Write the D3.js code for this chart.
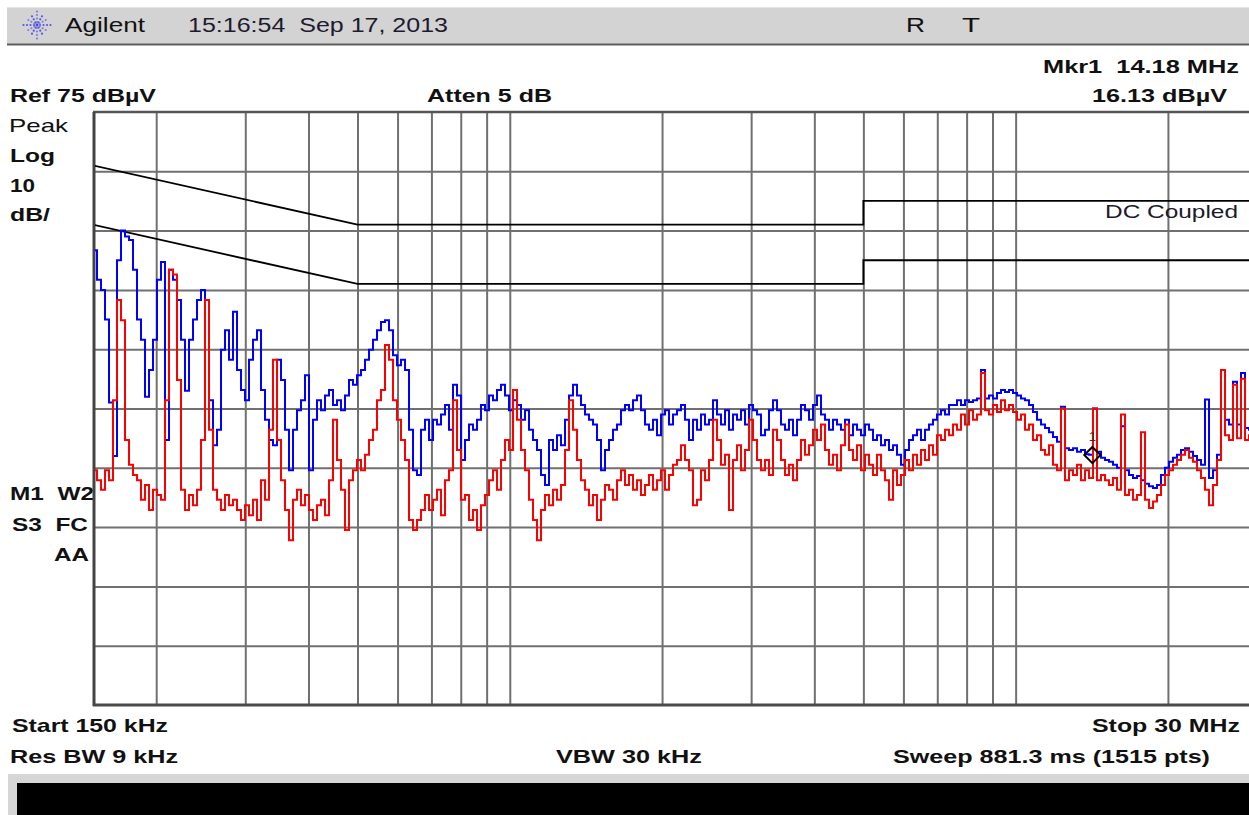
<!DOCTYPE html>
<html><head><meta charset="utf-8">
<script src="https://cdn.jsdelivr.net/npm/d3@7"></script>
<style>
body{margin:0;background:#fff;overflow:hidden}
svg{display:block}
text{font-family:"Liberation Sans",Arial,sans-serif;fill:#111;white-space:pre}
</style>
</head><body>
<svg id="c" width="1249" height="815"></svg>
<script>
// ---------------- data ----------------
const startHz = 150e3, stopHz = 30e6;
const refLevel = 75, dbPerDiv = 10, numDiv = 10;
const gridLevels = [-15, -5, 5, 15, 25, 35, 45, 55, 65];
const gridFreqs = [200e3,300e3,400e3,500e3,600e3,700e3,800e3,900e3,1e6,2e6,3e6,4e6,5e6,6e6,7e6,8e6,9e6,10e6,20e6];
// limit lines (dBµV) : [freq, level]
const qpLimit  = [[150e3,66],[500e3,56],[5e6,56],[5e6,60],[30e6,60]];
const avgLimit = [[150e3,56],[500e3,46],[5e6,46],[5e6,50],[30e6,50]];
// traces, dBµV, log-spaced sweep points from start to stop
const blueTrace = [
51.7,46.7,45,40,26,17,50,55,54,53.4,
48.4,40,36.6,27,31.5,36.6,46.7,49.7,19.7,48.4,
46.7,43.3,36.6,28,36.6,40,43.3,45,43.3,26.4,
18.8,21.4,34.9,38.2,33.2,41.3,31.5,28.1,26.4,33.2,
36.6,38.2,28.1,23.1,19.7,18.8,33.2,29.8,21.4,14.6,
21.4,24.7,26.4,30.6,14.6,23.1,26.4,24.7,27.2,28.1,
25.6,26.4,24.7,27.2,29.8,29,30.6,31.5,33.2,34.9,
36.6,38.2,39.6,39.9,38.2,34,32.3,33.2,31.5,21.4,
14.6,13.8,21.4,23.1,19.7,23.1,22.3,24,25.6,21.4,
29,27.2,16.3,19.7,22.3,21.4,23.1,25.6,24.7,27.2,
26.4,28.1,29,27.2,24.7,26.4,25.6,23.1,24.7,21.4,
19.7,18,13.8,12.1,19.7,18,20.5,18.8,23.1,27.2,
29,27.2,25.6,24,23.1,22.3,19.7,14.6,18,19.7,
21.4,22.3,24.7,25.6,24.7,26.4,27.2,24.7,22.3,21.4,
23.1,20.5,24,24.7,22.3,24,24.7,25.6,23.1,19.7,
23.1,21.4,24,22.3,23.1,26.4,24,22.3,24.7,21.4,
24,23.1,24.7,22.3,25.6,24.7,24,20.5,21.4,24.7,
26.4,24.7,22.3,21.4,23.1,20.5,23.1,25.6,24.7,23.1,
25.6,27.2,24,23.1,21.4,23.1,22.3,21.4,23.1,20.5,
22.3,21.4,20.5,22.3,21.4,19.7,20.5,18.8,19.7,18,
18.8,17.2,15.5,18,19.7,20.5,21.4,19.7,21.4,22.3,
23.1,24,24.7,24,25.6,25.6,26.4,25.6,26.4,26.1,
26.4,26.7,31.5,26.7,27.2,26.7,27.6,28.1,27.8,28.1,
27.6,27.2,26.7,26.4,25.6,24.4,23.1,22.3,21.7,21,
20.2,19.4,25.3,18.3,18,18.3,17.7,18,17.3,17.2,
25,17.7,16.7,16.3,16,15.5,15,22,14.6,13.8,
13.3,13.6,12.9,12.3,11.9,11.6,12.1,13.8,15,16,
16.7,17.2,18,18.3,17.7,17,16.3,15.5,26.5,13.3,
14.6,17.2,31.5,23.1,22.3,29.5,22.3,31,21.7,21.4,
21.7,21.4];
const redTrace = [
14.6,12.9,11.3,14.6,12.9,26.4,43.3,39.9,19.7,15.5,
13.8,12.9,9.6,12.1,7.9,11.3,10.4,9.6,26.4,48.4,
47.6,29.8,11.3,7.9,10.4,8.7,11.3,19.7,43.3,21.4,
11.3,9.6,7.9,10.4,8.7,9.6,7.9,6.2,8.7,7,
9.6,6.2,12.9,9.6,21.4,33.2,19.7,12.9,7.9,2.8,
9.6,11.3,8.7,10.4,7.9,6.2,8.7,9.6,7,12.9,
23.1,16.3,11.3,4.5,12.9,14.6,16.3,14.6,17.2,19.7,
21.4,26.4,28.1,35.7,33.2,26.4,23.1,19.7,16.3,6.2,
4.5,6.2,7.9,10.4,7.9,9.6,11.3,7,12.9,14.6,
26.4,18,9.6,10.4,6.2,7.9,4.5,8.7,10.4,12.9,
14.6,11.3,16.3,19.7,18,28.1,23.1,18,14.6,9.6,
6.2,2.8,7.9,10.4,8.7,11.3,9.6,12.1,18,26.4,
21.4,16.3,12.9,11.3,8.7,10.4,6.2,9.6,12.1,11.3,
9.6,12.9,14.6,12.1,13.8,11.3,12.9,10.4,12.1,13.8,
11.3,12.9,14.6,11.3,13.8,15.5,16.3,18.8,16.3,14.6,
8.7,9.6,14.6,12.9,16.3,23.1,19.7,15.5,17.2,7.9,
16.3,18.8,14.6,18,23.1,19.7,16.3,14.6,16.3,13.8,
21.4,19.7,16.3,13.8,15.5,12.9,16.3,19.7,17.2,18.8,
21.4,19.7,22.3,18,15.5,17.2,14.6,18.8,22.3,18,
16.3,18.8,14.6,17.2,15.5,13.8,17.2,14.6,12.9,9.6,
14.6,12.1,13.8,16.3,14.6,17.2,15.5,18,16.3,18.8,
17.2,20.5,19.7,21.4,20.5,22.3,21.4,24,22.3,24.7,
23.1,24,31,24.7,24,25.6,24.4,26.4,24.7,25.6,
24.4,23.1,24,21.4,22.3,19.7,20.5,18,17.2,18.8,
15.5,14.6,25,12.9,14.6,13.8,15.5,12.9,14.6,13.3,
25,12.9,13.8,12.9,12.1,13.3,11.3,24,10.4,11.3,
9.6,10.4,21,9.6,8.2,9.3,10.4,12.1,13.8,14.6,
15.5,16.3,17.2,18,16.7,16,14.6,13.3,11.3,8.7,
12.1,16.3,31.5,20.5,19.7,29,20,30,19.7,20.5,
19.7,20];
const marker = {label: "1", freq: 14.18e6, level: 16.13};

// ---------------- layout ----------------
const svg = d3.select("#c");
const plot = {left: 93, right: 1257, top: 112, bottom: 705};
const x = d3.scaleLog().domain([startHz, stopHz]).range([plot.left, plot.right]);
const y = d3.scaleLinear().domain([refLevel - dbPerDiv*numDiv, refLevel]).range([plot.bottom, plot.top]);

// header bar
svg.append("rect").attr("x",7).attr("y",7).attr("width",1242).attr("height",37).attr("fill","#d3d3d3");
svg.append("line").attr("x1",7).attr("x2",1249).attr("y1",44.5).attr("y2",44.5).attr("stroke","#5f5f5f").attr("stroke-width",2);
svg.append("line").attr("x1",7).attr("x2",1249).attr("y1",7.5).attr("y2",7.5).attr("stroke","#e6e6e6").attr("stroke-width",1);

// Agilent spark logo
const logo = svg.append("g").attr("transform","translate(37,25)");
const rays = d3.range(0, 360, 30);
rays.forEach(a => {
  const r = a % 90 === 0 ? [3,6.5,10,13.5] : [3,6.5,10];
  r.forEach(rr => {
    logo.append("circle")
      .attr("cx", rr*Math.cos(a*Math.PI/180))
      .attr("cy", rr*Math.sin(a*Math.PI/180))
      .attr("r", 1.1).attr("fill", a % 60 === 0 ? "#4a5ae8" : "#8a7ad8");
  });
});
logo.append("circle").attr("r",1.4).attr("fill","#3a4ae0");

function txt(s, x0, yb, len, opts = {}) {
  const t = svg.append("text").attr("x", x0).attr("y", yb)
    .attr("font-size", opts.size || 19)
    .attr("font-weight", opts.bold === false ? "normal" : "bold")
    .attr("xml:space", "preserve")
    .text(s);
  if (len) t.attr("textLength", len).attr("lengthAdjust", "spacingAndGlyphs");
  if (opts.fill) t.style("fill", opts.fill);
  return t;
}

// header texts
txt("Agilent", 65, 32, 80, {bold:false, size:20});
txt("15:16:54  Sep 17, 2013", 188, 32, 260, {bold:false, size:20, fill:"#1e1a30"});
txt("R", 906, 32, 19, {bold:false, size:20});
txt("T", 962, 32, 18, {bold:false, size:20});

txt("Mkr1  14.18 MHz", 1043, 73, 196);
txt("Ref 75 dB\u00B5V", 10, 102, 146);
txt("Atten 5 dB", 427, 102, 125);
txt("16.13 dB\u00B5V", 1092, 102, 135);

txt("Peak", 9, 132, 59, {bold:false});
txt("Log", 10, 162, 45);
txt("10", 10, 192, 25);
txt("dB/", 10, 221, 40);
txt("M1  W2", 10, 500, 84);
txt("S3  FC", 12, 531, 76);
txt("AA", 54, 561, 35);

txt("Start 150 kHz", 12, 732, 156);
txt("Stop 30 MHz", 1092, 732, 148);
txt("Res BW 9 kHz", 10, 763, 168);
txt("VBW 30 kHz", 556, 763, 146);
txt("Sweep 881.3 ms (1515 pts)", 893, 763, 317);

// bottom bar
svg.append("rect").attr("x",8).attr("y",774).attr("width",1241).attr("height",41).attr("fill","#d6d6d6");
svg.append("rect").attr("x",17).attr("y",783).attr("width",1232).attr("height",32).attr("fill","#000");

// grid via axes
const gx = svg.append("g").attr("transform", `translate(0,${plot.bottom})`)
  .call(d3.axisBottom(x).tickValues(gridFreqs).tickSize(-(plot.bottom - plot.top)).tickFormat(""));
gx.select(".domain").remove();
gx.selectAll(".tick line").attr("stroke","#707070").attr("stroke-width",2);

const gy = svg.append("g").attr("transform", `translate(${plot.left},0)`)
  .call(d3.axisLeft(y).tickValues(gridLevels).tickSize(-(plot.right - plot.left)).tickFormat(""));
gy.select(".domain").remove();
gy.selectAll(".tick line").attr("stroke","#707070").attr("stroke-width",2);

// border
svg.append("line").attr("x1",plot.left).attr("x2",plot.right).attr("y1",plot.top).attr("y2",plot.top)
  .attr("stroke","#555").attr("stroke-width",2.5);
svg.append("line").attr("x1",plot.left).attr("x2",plot.right).attr("y1",plot.bottom).attr("y2",plot.bottom)
  .attr("stroke","#4a4a4a").attr("stroke-width",3);
svg.append("line").attr("x1",plot.left+1).attr("x2",plot.left+1).attr("y1",plot.top).attr("y2",plot.bottom+1)
  .attr("stroke","#444").attr("stroke-width",3);

// clip
svg.append("clipPath").attr("id","pc").append("rect")
  .attr("x",plot.left+2).attr("y",plot.top).attr("width",plot.right-plot.left).attr("height",plot.bottom-plot.top);

const content = svg.append("g").attr("clip-path","url(#pc)");

// limit lines
const limLine = d3.line().x(d => x(d[0])).y(d => y(d[1]));
[qpLimit, avgLimit].forEach(L => {
  content.append("path").attr("d", limLine(L)).attr("fill","none")
    .attr("stroke","#000").attr("stroke-width",1.8);
});

txt("DC Coupled", 1105, 218, 133, {bold:false, size:19, fill:"#1a1a2a"});

// traces (analyzer-style stair steps)
const N = blueTrace.length;
const sweep = d3.range(N).map(i => startHz * Math.pow(stopHz/startHz, i/(N-1)));
const trLine = d3.line().x((d,i) => x(sweep[i])).y(d => y(d)).curve(d3.curveStepAfter);
content.append("path").attr("d", trLine(blueTrace)).attr("fill","none")
  .attr("stroke","#0000ff").attr("stroke-width",2);
content.append("path").attr("d", trLine(redTrace)).attr("fill","none")
  .attr("stroke","#ff0000").attr("stroke-width",2);

// marker
const mx = x(marker.freq), my = y(marker.level) - 6;
content.append("path").attr("d", d3.symbol(d3.symbolSquare, 130)())
  .attr("transform", `translate(${mx},${my}) rotate(45)`)
  .attr("fill","none").attr("stroke","#000").attr("stroke-width",2);
content.append("text").attr("x", mx).attr("y", my - 14).attr("text-anchor","middle")
  .attr("font-size",13).style("fill","#333").text(marker.label);
</script>
</body></html>
